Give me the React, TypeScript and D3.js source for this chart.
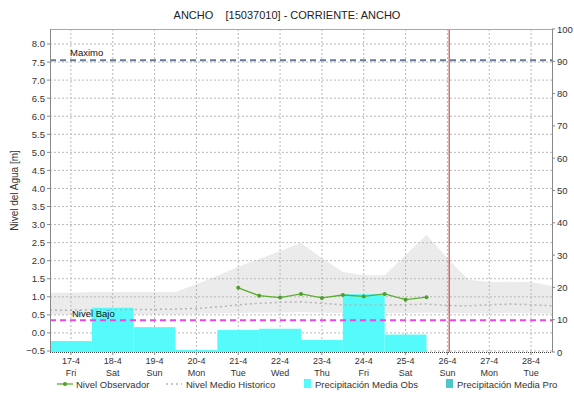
import React from "react";
import * as d3 from "d3";

const W = 574;
const H = 404;
const M = { left: 50, right: 552, top: 29, bottom: 352 };

const title = "ANCHO    [15037010] - CORRIENTE: ANCHO";
const yLabel = "Nivel del Agua [m]";

const dayLabels = ["17-4", "18-4", "19-4", "20-4", "21-4", "22-4", "23-4", "24-4", "25-4", "26-4", "27-4", "28-4"];
const weekdayLabels = ["Fri", "Sat", "Sun", "Mon", "Tue", "Wed", "Thu", "Fri", "Sat", "Sun", "Mon", "Tue"];

const leftTicks = [-0.5, 0, 0.5, 1, 1.5, 2, 2.5, 3, 3.5, 4, 4.5, 5, 5.5, 6, 6.5, 7, 7.5, 8];
const rightTicks = [0, 10, 20, 30, 40, 50, 60, 70, 80, 90, 100];

// Observed level, every 12h from 21-4 00:00
const obsValues = [1.25, 1.03, 0.98, 1.08, 0.97, 1.05, 1.01, 1.08, 0.92, 0.99];

// Historic band, every 12h from 16-4 12:00
const histUpper = [1.11, 1.11, 1.13, 1.13, 1.13, 1.13, 1.13, 1.35, 1.58, 1.83, 2.05, 2.27, 2.49, 2.07, 1.69, 1.6, 1.6, 2.16, 2.71, 2.07, 1.47, 1.41, 1.42, 1.41, 1.3];
const histLower = [0.52, 0.52, 0.52, 0.52, 0.52, 0.52, 0.52, 0.53, 0.54, 0.55, 0.56, 0.56, 0.57, 0.56, 0.55, 0.55, 0.55, 0.55, 0.56, 0.55, 0.54, 0.54, 0.55, 0.54, 0.53];
const histMedian = [0.63, 0.63, 0.64, 0.64, 0.65, 0.65, 0.66, 0.68, 0.72, 0.78, 0.82, 0.85, 0.86, 0.82, 0.78, 0.77, 0.77, 0.78, 0.8, 0.76, 0.75, 0.78, 0.8, 0.78, 0.75];

// Precipitation (right axis), daily 17-4 .. 25-4
const precipObs = [3.4, 13.7, 7.7, 0.6, 6.8, 7.2, 3.7, 17.9, 5.4];
const precipPro: number[] = [];

const maximoLevel = 7.55;
const bajoLevel = 0.35;

const base = new Date(2015, 3, 16, 12);
const hoursFrom = (h: number) => new Date(base.getTime() + h * 3600 * 1000);

export default function App() {
  const x = d3.scaleTime().domain([hoursFrom(0), hoursFrom(288)]).range([M.left, M.right]);
  const yL = d3.scaleLinear().domain([-0.528, 8.415]).range([M.bottom, M.top]);
  const yR = d3.scaleLinear().domain([0, 100]).range([M.bottom, M.top]);
  const fontFamily = "'Liberation Sans', Arial, sans-serif";

  const dayX = dayLabels.map((_, i) => x(hoursFrom(12 + 24 * i)));
  const histX = histUpper.map((_, i) => x(hoursFrom(12 * i)));
  const obsPts = obsValues.map((v, i) => [x(hoursFrom(108 + 12 * i)), yL(v)] as [number, number]);

  const area = d3
    .area<number>()
    .x((_, i) => histX[i])
    .y0((_, i) => yL(histLower[i]))
    .y1((d) => yL(d));
  const line = d3.line<[number, number]>();
  const medLine = d3
    .line<number>()
    .x((_, i) => histX[i])
    .y((d) => yL(d));

  const bars = precipObs.map((v, i) => {
    const x0 = x(hoursFrom(24 * i));
    const x1 = x(hoursFrom(24 * (i + 1)));
    return { x0, x1, y: yR(v) };
  });
  const barsPro = precipPro.map((v, i) => {
    const x0 = x(hoursFrom(24 * i));
    const x1 = x(hoursFrom(24 * (i + 1)));
    return { x0, x1, y: yR(v) };
  });

  const nowX = x(hoursFrom(229));

  return (
    <svg width={W} height={H} style={{ position: "absolute", left: 0, top: 0, background: "#fff" }} fontFamily={fontFamily}>
      <rect x={0} y={0} width={W} height={H} fill="#fff" />
      <text x={287} y={19} textAnchor="middle" fontSize={11} fill="#222" style={{ whiteSpace: "pre" }}>
        {title}
      </text>
      {/* historic area */}
      <path d={area(histUpper) || ""} fill="#ebebeb" />
      {/* grid */}
      {leftTicks.map((t) => (
        <line key={"gh" + t} x1={M.left} x2={M.right} y1={yL(t)} y2={yL(t)} stroke="#b8b8b8" strokeWidth={1} strokeDasharray="2,2" />
      ))}
      {dayX.map((dx, i) => (
        <line key={"gv" + i} x1={dx} x2={dx} y1={M.top} y2={M.bottom} stroke="#b8b8b8" strokeWidth={1} strokeDasharray="2,2" />
      ))}
      {/* precipitation bars */}
      {bars.map((b, i) => (
        <rect key={"b" + i} x={b.x0} y={b.y} width={b.x1 - b.x0} height={M.bottom - b.y} fill="#55fbfb" />
      ))}
      {barsPro.map((b, i) => (
        <rect key={"bp" + i} x={b.x0} y={b.y} width={b.x1 - b.x0} height={M.bottom - b.y} fill="#4cc8c8" />
      ))}
      {/* median */}
      <path d={medLine(histMedian) || ""} fill="none" stroke="#b4b4b4" strokeWidth={1.5} strokeDasharray="2,3" />
      {/* thresholds */}
      <line x1={M.left} x2={M.right} y1={yL(maximoLevel)} y2={yL(maximoLevel)} stroke="#667a99" strokeWidth={2} strokeDasharray="6,4" />
      <text x={70} y={yL(maximoLevel) - 4} fontSize={9.5} fill="#111">Maximo</text>
      <line x1={M.left} x2={M.right} y1={yL(bajoLevel)} y2={yL(bajoLevel)} stroke="#ee44ee" strokeWidth={2} strokeDasharray="6,4" />
      <text x={72} y={yL(bajoLevel) - 3} fontSize={9.5} fill="#111">Nivel Bajo</text>
      {/* observed */}
      <path d={line(obsPts) || ""} fill="none" stroke="#5cae32" strokeWidth={1.3} />
      {obsPts.map((p, i) => (
        <circle key={"o" + i} cx={p[0]} cy={p[1]} r={2} fill="#4aa028" />
      ))}
      {/* now line */}
      <line x1={nowX} x2={nowX} y1={M.top} y2={M.bottom} stroke="#cc2222" strokeWidth={1} />
      {/* frame */}
      <line x1={M.left} x2={M.right} y1={M.top + 0.5} y2={M.top + 0.5} stroke="#aaa" />
      <line x1={M.left + 0.5} x2={M.left + 0.5} y1={M.top} y2={M.bottom} stroke="#888" />
      <line x1={M.right + 0.5} x2={M.right + 0.5} y1={M.top} y2={M.bottom} stroke="#888" />
      <line x1={M.left} x2={M.right} y1={M.bottom + 0.5} y2={M.bottom + 0.5} stroke="#444" strokeDasharray="1,1" />
      {/* left axis */}
      {leftTicks.map((t) => (
        <g key={"lt" + t}>
          <line x1={M.left - 3} x2={M.left} y1={yL(t)} y2={yL(t)} stroke="#888" />
          <text x={M.left - 5} y={yL(t) + 3.5} textAnchor="end" fontSize={9.5} fill="#333">
            {d3.format(".1f")(t)}
          </text>
        </g>
      ))}
      <text transform={`translate(18,${(M.top + M.bottom) / 2}) rotate(-90)`} textAnchor="middle" fontSize={10} fill="#333">
        {yLabel}
      </text>
      {/* right axis */}
      {rightTicks.map((t) => (
        <g key={"rt" + t}>
          <line x1={M.right} x2={M.right + 3} y1={yR(t)} y2={yR(t)} stroke="#888" />
          <text x={M.right + 5} y={yR(t) + 3.5} fontSize={9.5} fill="#333">
            {t}
          </text>
        </g>
      ))}
      {/* bottom axis labels */}
      {dayX.map((dx, i) => (
        <g key={"bl" + i}>
          <line x1={dx} x2={dx} y1={M.bottom} y2={M.bottom + 3} stroke="#888" />
          <text x={dx} y={364} textAnchor="middle" fontSize={9} fill="#333">
            {dayLabels[i]}
          </text>
          <text x={dx} y={376} textAnchor="middle" fontSize={9} fill="#333">
            {weekdayLabels[i]}
          </text>
        </g>
      ))}
      {/* legend */}
      <g fontSize={9.5} fill="#333">
        <line x1={57} x2={73} y1={384} y2={384} stroke="#5cae32" strokeWidth={1.3} />
        <circle cx={65} cy={384} r={2} fill="#4aa028" />
        <text x={76} y={388}>Nivel Observador</text>
        <line x1={166} x2={182} y1={384} y2={384} stroke="#b4b4b4" strokeWidth={1.5} strokeDasharray="2,3" />
        <text x={186} y={388}>Nivel Medio Historico</text>
        <rect x={304} y={379} width={7} height={9} fill="#55fbfb" />
        <text x={315} y={388}>Precipitación Media Obs</text>
        <rect x={446} y={379} width={7} height={9} fill="#4cc8c8" />
        <text x={457} y={388}>Precipitación Media Pro</text>
      </g>
    </svg>
  );
}
